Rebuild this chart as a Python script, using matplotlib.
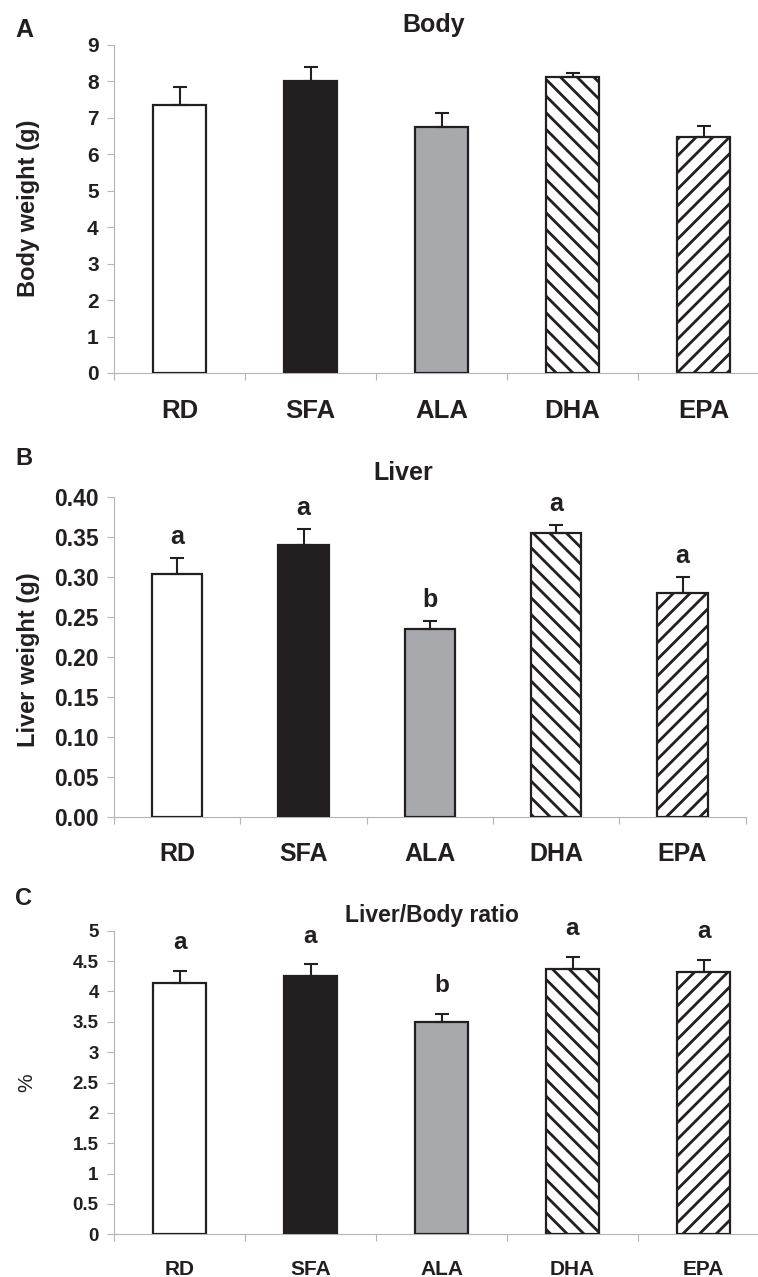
import numpy as np
import matplotlib
matplotlib.use("Agg")
import matplotlib.pyplot as plt
from matplotlib.ticker import FixedLocator, FuncFormatter

plt.rcParams['font.family'] = ['Liberation Sans', 'DejaVu Sans']
plt.rcParams['hatch.linewidth'] = 2.0

groups = ['RD', 'SFA', 'ALA', 'DHA', 'EPA']

body_mean = [7.36, 8.02, 6.75, 8.13, 6.48]
body_err = [0.49, 0.38, 0.39, 0.11, 0.31]

liver_mean = [0.304, 0.340, 0.235, 0.355, 0.280]
liver_err = [0.020, 0.020, 0.010, 0.010, 0.020]
liver_letters = ['a', 'a', 'b', 'a', 'a']

ratio_mean = [4.14, 4.26, 3.49, 4.37, 4.32]
ratio_err = [0.20, 0.19, 0.14, 0.20, 0.20]
ratio_letters = ['a', 'a', 'b', 'a', 'a']

fills = ['white', '#231f20', '#a7a9ac', 'white', 'white']
hatches = [None, None, None, '\\\\', '//']
INK = '#231f20'
GRID = '#b4b4b4'

W, H = 758, 1277
fig = plt.figure(figsize=(W / 100, H / 100), dpi=100)


def px_axes(left, top, right, bottom):
    return fig.add_axes([left / W, 1 - bottom / H, (right - left) / W, (bottom - top) / H])


def draw_panel(ax, mean, err, ymax, ystep, fmt, tick_fs, xlab_fs, letters=None, letter_fs=17, letter_off=10):
    x = np.arange(len(groups))
    bars = ax.bar(x, mean, width=0.40, color=fills, edgecolor=INK, linewidth=1.6, zorder=3)
    for b, h in zip(bars, hatches):
        if h:
            b.set_hatch(h)
    ax.errorbar(x, mean, yerr=[np.zeros(len(err)), err], fmt='none', ecolor=INK,
                elinewidth=1.5, capsize=4.8, capthick=1.5, zorder=4)
    if letters:
        for xi, m, e, lab in zip(x, mean, err, letters):
            ax.annotate(lab, (xi, m + e), xytext=(0, letter_off), textcoords='offset points',
                        ha='center', va='baseline', fontsize=letter_fs, fontweight='bold', color=INK)
    ax.set_xlim(-0.5, len(groups) - 0.5)
    ax.set_ylim(0, ymax)
    ax.yaxis.set_major_locator(FixedLocator(np.arange(0, ymax + ystep / 2, ystep)))
    ax.yaxis.set_major_formatter(FuncFormatter(fmt))
    ax.set_xticks(x)
    ax.set_xticklabels(groups, fontsize=xlab_fs, fontweight='bold', color=INK)
    ax.set_xticks(np.arange(-0.5, len(groups)), minor=True)
    ax.tick_params(axis='x', which='major', length=0, pad=18.5)
    ax.tick_params(axis='x', which='minor', length=5, width=0.8, color=GRID, direction='out')
    ax.tick_params(axis='y', length=5, width=0.8, color=GRID, pad=6, labelsize=tick_fs)
    for lab in ax.get_yticklabels():
        lab.set_fontweight('bold')
        lab.set_color(INK)
    for s in ['top', 'right']:
        ax.spines[s].set_visible(False)
    for s in ['left', 'bottom']:
        ax.spines[s].set_color(GRID)
        ax.spines[s].set_linewidth(0.8)
    ax.set_facecolor('none')


# Panel A
axA = px_axes(114, 45, 769, 373)
draw_panel(axA, body_mean, body_err, 9, 1, lambda v, p: f'{v:.0f}', 15, 18.5)
fig.text(434 / W, 1 - 31.7 / H, 'Body', ha='center', va='baseline', fontsize=18, fontweight='bold', color=INK)
fig.text(15 / W, 1 - 36.7 / H, 'A', ha='left', va='baseline', fontsize=18, fontweight='bold', color=INK)
fig.text(29 / W, 1 - 208 / H, 'Body weight (g)', rotation=90, ha='center', va='center',
         fontsize=17, fontweight='bold', color=INK)

# Panel B
axB = px_axes(114, 497.3, 745.7, 816.7)
draw_panel(axB, liver_mean, liver_err, 0.40, 0.05, lambda v, p: f'{v:.2f}', 16.5, 18,
           letters=liver_letters, letter_fs=18, letter_off=10)
fig.text(403 / W, 1 - 480 / H, 'Liver', ha='center', va='baseline', fontsize=18, fontweight='bold', color=INK)
fig.text(15 / W, 1 - 465 / H, 'B', ha='left', va='baseline', fontsize=17, fontweight='bold', color=INK)
fig.text(29 / W, 1 - 660 / H, 'Liver weight (g)', rotation=90, ha='center', va='center',
         fontsize=17, fontweight='bold', color=INK)

# Panel C
axC = px_axes(114, 930.7, 769, 1234.3)
draw_panel(axC, ratio_mean, ratio_err, 5, 0.5, lambda v, p: f'{v:g}', 13.5, 15,
           letters=ratio_letters, letter_fs=17.5, letter_off=15.5)
fig.text(432 / W, 1 - 921.7 / H, 'Liver/Body ratio', ha='center', va='baseline', fontsize=16.5,
         fontweight='bold', color=INK)
fig.text(15 / W, 1 - 905 / H, 'C', ha='left', va='baseline', fontsize=17, fontweight='bold', color=INK)
fig.text(27 / W, 1 - 1083 / H, '%', rotation=90, ha='center', va='center', fontsize=15, color=INK)

fig.savefig('out.png', dpi=100, facecolor='white')
